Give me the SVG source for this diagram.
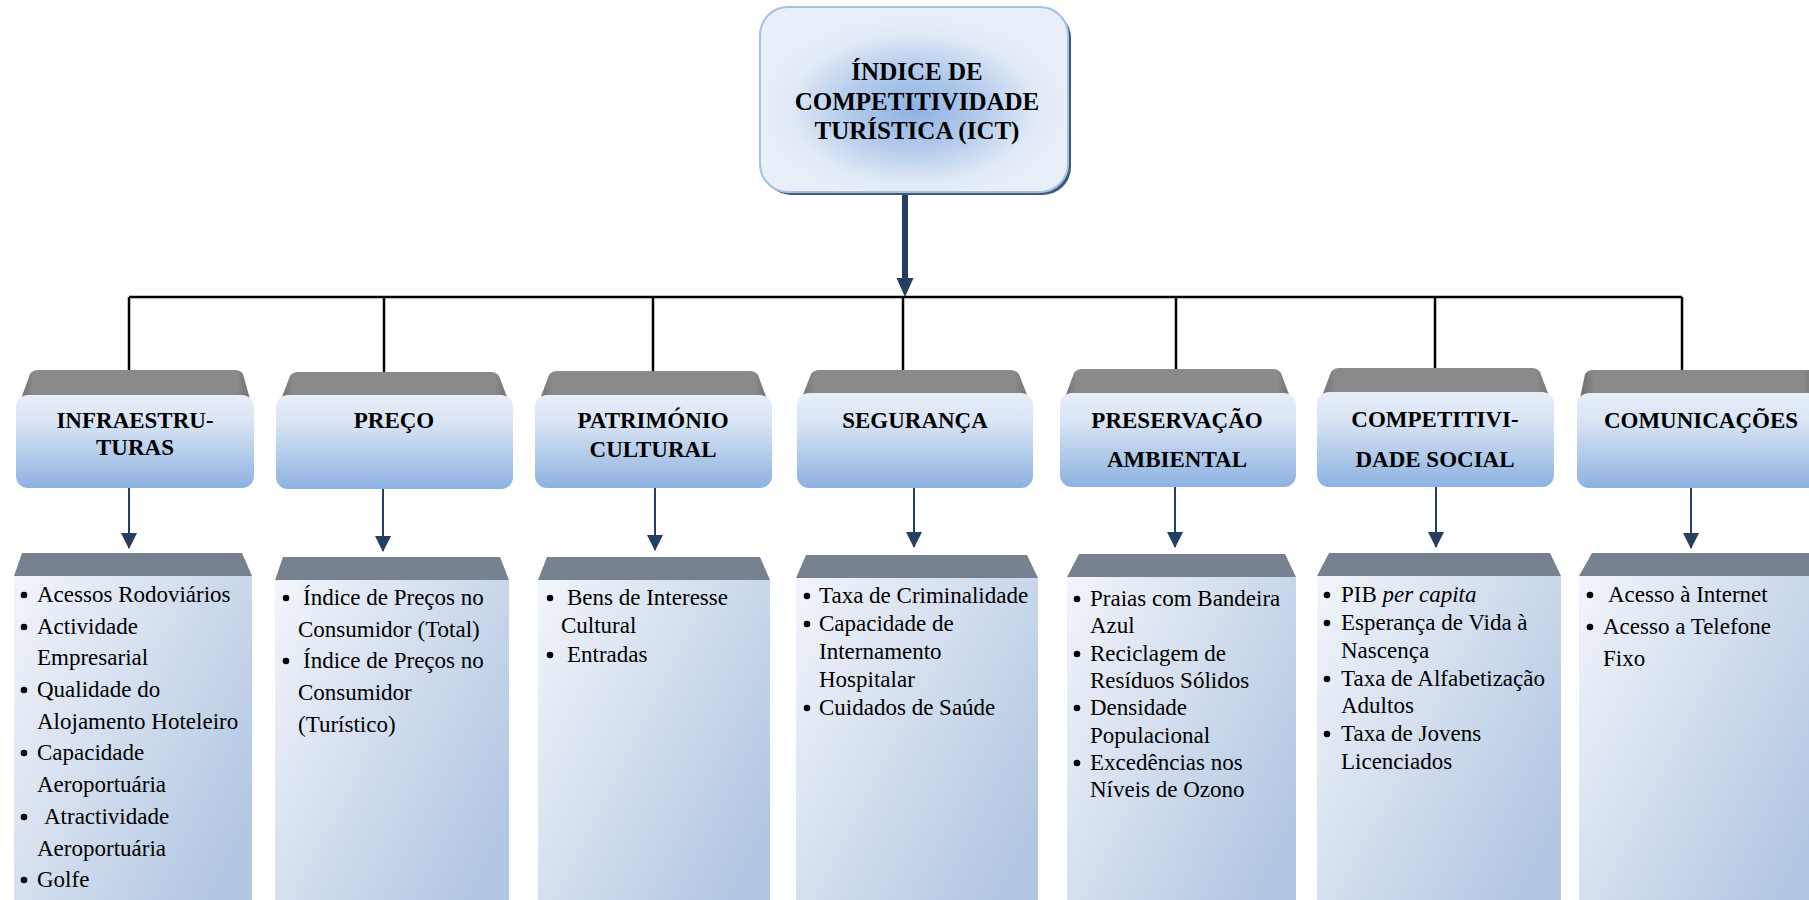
<svg xmlns="http://www.w3.org/2000/svg" width="1809" height="900" viewBox="0 0 1809 900">
  <defs>
    <style>
      .title { font-family: "Liberation Serif", "Times New Roman", serif; font-size: 25px; font-weight: bold; fill: #000; text-anchor: middle; }
      .cat { font-family: "Liberation Serif", "Times New Roman", serif; font-size: 23px; font-weight: bold; fill: #000; text-anchor: middle; }
      .item { font-family: "Liberation Serif", "Times New Roman", serif; font-size: 23px; fill: #000; }
      .dot { fill: #000; }
      .cap { fill: url(#capGrad); }
      .catBody { fill: url(#catGrad); }
      .listCap { fill: #76828f; }
      .listBody { fill: url(#listGrad); }
      .link { stroke: #000; stroke-width: 2.5; fill: none; }
      .drop { stroke: #243f60; stroke-width: 2; fill: none; marker-end: url(#headSmall); }
    </style>
    <radialGradient id="titleGrad" cx="0.5" cy="0.55" r="0.5">
      <stop offset="0" stop-color="#8fb2e3"/>
      <stop offset="0.45" stop-color="#b5ccec"/>
      <stop offset="0.8" stop-color="#e0e9f6"/>
      <stop offset="1" stop-color="#e8eff9"/>
    </radialGradient>
    <linearGradient id="capGrad" x1="0" y1="0" x2="1" y2="0">
      <stop offset="0" stop-color="#6a6a6a"/>
      <stop offset="0.07" stop-color="#8a8a8a"/>
      <stop offset="0.93" stop-color="#8a8a8a"/>
      <stop offset="1" stop-color="#6a6a6a"/>
    </linearGradient>
    <linearGradient id="catGrad" x1="0" y1="0" x2="0" y2="1">
      <stop offset="0" stop-color="#e7eef9"/>
      <stop offset="0.3" stop-color="#d9e4f4"/>
      <stop offset="1" stop-color="#8cb2e1"/>
    </linearGradient>
    <linearGradient id="listGrad" x1="0" y1="0" x2="1" y2="0.7">
      <stop offset="0" stop-color="#f2f5fb"/>
      <stop offset="0.5" stop-color="#d3deee"/>
      <stop offset="1" stop-color="#b3c8e2"/>
    </linearGradient>
    <marker id="headSmall" markerUnits="userSpaceOnUse" markerWidth="16" markerHeight="16" viewBox="0 0 16 16" refX="15" refY="8" orient="auto">
      <path d="M0,0 L16,8 L0,16 Z" fill="#243f60"/>
    </marker>
  </defs>

  <rect width="1809" height="900" fill="#ffffff"/>

  <!-- connectors -->
  <g id="connectors">
    <line x1="905" y1="192" x2="905" y2="280" stroke="#243f60" stroke-width="6"/>
    <path d="M896.5,278 L913.5,278 L905,297 Z" fill="#243f60"/>
    <line class="link" x1="129" y1="297" x2="1682" y2="297"/>
    <line class="link" x1="129" y1="297" x2="129" y2="371"/>
    <line class="link" x1="384" y1="297" x2="384" y2="373"/>
    <line class="link" x1="653" y1="297" x2="653" y2="372"/>
    <line class="link" x1="903" y1="297" x2="903" y2="371"/>
    <line class="link" x1="1176" y1="297" x2="1176" y2="370"/>
    <line class="link" x1="1435" y1="297" x2="1435" y2="369"/>
    <line class="link" x1="1682" y1="297" x2="1682" y2="371"/>
    <line class="drop" x1="129" y1="488" x2="129" y2="548"/>
    <line class="drop" x1="383" y1="489" x2="383" y2="551"/>
    <line class="drop" x1="655" y1="488" x2="655" y2="550"/>
    <line class="drop" x1="914" y1="488" x2="914" y2="547"/>
    <line class="drop" x1="1175" y1="487" x2="1175" y2="547"/>
    <line class="drop" x1="1436" y1="487" x2="1436" y2="547"/>
    <line class="drop" x1="1691" y1="488" x2="1691" y2="548"/>
  </g>

  <!-- root node -->
  <g id="ict">
    <rect x="763" y="10" width="308" height="185" rx="28" fill="#3f5a7c"/>
    <rect x="760" y="7" width="308" height="185" rx="28" fill="url(#titleGrad)" stroke="#a9c1e0" stroke-width="2"/>
    <text class="title" x="917" y="80">ÍNDICE DE</text>
    <text class="title" x="917" y="110">COMPETITIVIDADE</text>
    <text class="title" x="917" y="139">TURÍSTICA (ICT)</text>
  </g>

  <!-- category: infrastructures -->
  <g id="cat-infraestruturas">
    <path class="cap" d="M17,410 L30,374 Q33,370 38,370 L235,370 Q240,370 243,374 L253,410 Z"/>
    <rect class="catBody" x="16" y="395" width="238" height="93" rx="12"/>
    <text class="cat" x="135" y="428">INFRAESTRU-</text>
    <text class="cat" x="135" y="455">TURAS</text>
  </g>
  <g id="cat-preco">
    <path class="cap" d="M277,410 L290,376 Q293,372 298,372 L491,372 Q496,372 499,376 L512,410 Z"/>
    <rect class="catBody" x="276" y="395" width="237" height="94" rx="12"/>
    <text class="cat" x="394" y="428">PREÇO</text>
  </g>
  <g id="cat-patrimonio">
    <path class="cap" d="M536,410 L549,375 Q552,371 557,371 L750,371 Q755,371 758,375 L771,410 Z"/>
    <rect class="catBody" x="535" y="395" width="237" height="93" rx="12"/>
    <text class="cat" x="653" y="428">PATRIMÓNIO</text>
    <text class="cat" x="653" y="457">CULTURAL</text>
  </g>
  <g id="cat-seguranca">
    <path class="cap" d="M798,408 L811,374 Q814,370 819,370 L1011,370 Q1016,370 1019,374 L1032,408 Z"/>
    <rect class="catBody" x="797" y="393" width="236" height="95" rx="12"/>
    <text class="cat" x="915" y="428">SEGURANÇA</text>
  </g>
  <g id="cat-preservacao">
    <path class="cap" d="M1061,408 L1074,373 Q1077,369 1082,369 L1273,369 Q1278,369 1281,373 L1294,408 Z"/>
    <rect class="catBody" x="1060" y="393" width="236" height="94" rx="12"/>
    <text class="cat" x="1177" y="428">PRESERVAÇÃO</text>
    <text class="cat" x="1177" y="467">AMBIENTAL</text>
  </g>
  <g id="cat-competitividade">
    <path class="cap" d="M1318,407 L1331,372 Q1334,368 1339,368 L1532,368 Q1537,368 1540,372 L1553,407 Z"/>
    <rect class="catBody" x="1317" y="392" width="237" height="95" rx="12"/>
    <text class="cat" x="1435" y="427">COMPETITIVI-</text>
    <text class="cat" x="1435" y="467">DADE SOCIAL</text>
  </g>
  <g id="cat-comunicacoes">
    <path class="cap" d="M1578,408 L1585,374 Q1588,370 1593,370 L1820,370 L1820,408 Z"/>
    <rect class="catBody" x="1577" y="393" width="250" height="95" rx="12"/>
    <text class="cat" x="1701" y="428">COMUNICAÇÕES</text>
  </g>

  <!-- indicator list: infrastructures -->
  <g id="list-infraestruturas">
    <path class="listCap" d="M14,576 L22,553 L242,553 L252,576 Z"/>
    <rect class="listBody" x="14" y="576" width="238" height="330"/>
    <circle class="dot" cx="24" cy="595" r="3.3"/>
    <text class="item" x="37" y="602">Acessos Rodoviários</text>
    <circle class="dot" cx="24" cy="627" r="3.3"/>
    <text class="item" x="37" y="634">Actividade</text>
    <text class="item" x="37" y="665">Empresarial</text>
    <circle class="dot" cx="24" cy="690" r="3.3"/>
    <text class="item" x="37" y="697">Qualidade do</text>
    <text class="item" x="37" y="729">Alojamento Hoteleiro</text>
    <circle class="dot" cx="24" cy="753" r="3.3"/>
    <text class="item" x="37" y="760">Capacidade</text>
    <text class="item" x="37" y="792">Aeroportuária</text>
    <circle class="dot" cx="24" cy="817" r="3.3"/>
    <text class="item" x="44" y="824">Atractividade</text>
    <text class="item" x="37" y="856">Aeroportuária</text>
    <circle class="dot" cx="24" cy="880" r="3.3"/>
    <text class="item" x="37" y="887">Golfe</text>
  </g>

  <!-- indicator list: price -->
  <g id="list-preco">
    <path class="listCap" d="M275,580 L283,557 L500,557 L509,580 Z"/>
    <rect class="listBody" x="275" y="580" width="234" height="326"/>
    <circle class="dot" cx="286" cy="598" r="3.3"/>
    <text class="item" x="303" y="605">Índice de Preços no</text>
    <text class="item" x="298" y="637">Consumidor (Total)</text>
    <circle class="dot" cx="286" cy="661" r="3.3"/>
    <text class="item" x="303" y="668">Índice de Preços no</text>
    <text class="item" x="298" y="700">Consumidor</text>
    <text class="item" x="298" y="732">(Turístico)</text>
  </g>

  <!-- indicator list: cultural heritage -->
  <g id="list-patrimonio">
    <path class="listCap" d="M538,580 L547,557 L760,557 L770,580 Z"/>
    <rect class="listBody" x="538" y="580" width="232" height="326"/>
    <circle class="dot" cx="550" cy="598" r="3.3"/>
    <text class="item" x="567" y="605">Bens de Interesse</text>
    <text class="item" x="561" y="633">Cultural</text>
    <circle class="dot" cx="550" cy="655" r="3.3"/>
    <text class="item" x="567" y="662">Entradas</text>
  </g>

  <!-- indicator list: safety -->
  <g id="list-seguranca">
    <path class="listCap" d="M796,578 L806,555 L1027,555 L1038,578 Z"/>
    <rect class="listBody" x="796" y="578" width="242" height="328"/>
    <circle class="dot" cx="807" cy="596" r="3.3"/>
    <text class="item" x="819" y="603">Taxa de Criminalidade</text>
    <circle class="dot" cx="807" cy="624" r="3.3"/>
    <text class="item" x="819" y="631">Capacidade de</text>
    <text class="item" x="819" y="659">Internamento</text>
    <text class="item" x="819" y="687">Hospitalar</text>
    <circle class="dot" cx="807" cy="708" r="3.3"/>
    <text class="item" x="819" y="715">Cuidados de Saúde</text>
  </g>

  <!-- indicator list: environment -->
  <g id="list-preservacao">
    <path class="listCap" d="M1067,577 L1079,554 L1285,554 L1296,577 Z"/>
    <rect class="listBody" x="1067" y="577" width="229" height="329"/>
    <circle class="dot" cx="1077" cy="599" r="3.3"/>
    <text class="item" x="1090" y="606">Praias com Bandeira</text>
    <text class="item" x="1090" y="633">Azul</text>
    <circle class="dot" cx="1077" cy="654" r="3.3"/>
    <text class="item" x="1090" y="661">Reciclagem de</text>
    <text class="item" x="1090" y="688">Resíduos Sólidos</text>
    <circle class="dot" cx="1077" cy="708" r="3.3"/>
    <text class="item" x="1090" y="715">Densidade</text>
    <text class="item" x="1090" y="743">Populacional</text>
    <circle class="dot" cx="1077" cy="763" r="3.3"/>
    <text class="item" x="1090" y="770">Excedências nos</text>
    <text class="item" x="1090" y="797">Níveis de Ozono</text>
  </g>

  <!-- indicator list: social competitiveness -->
  <g id="list-competitividade">
    <path class="listCap" d="M1317,576 L1329,553 L1550,553 L1561,576 Z"/>
    <rect class="listBody" x="1317" y="576" width="244" height="330"/>
    <circle class="dot" cx="1327" cy="595" r="3.3"/>
    <text class="item" x="1341" y="602">PIB <tspan font-style="italic">per capita</tspan></text>
    <circle class="dot" cx="1327" cy="623" r="3.3"/>
    <text class="item" x="1341" y="630">Esperança de Vida à</text>
    <text class="item" x="1341" y="658">Nascença</text>
    <circle class="dot" cx="1327" cy="679" r="3.3"/>
    <text class="item" x="1341" y="686">Taxa de Alfabetização</text>
    <text class="item" x="1341" y="713">Adultos</text>
    <circle class="dot" cx="1327" cy="734" r="3.3"/>
    <text class="item" x="1341" y="741">Taxa de Jovens</text>
    <text class="item" x="1341" y="769">Licenciados</text>
  </g>

  <!-- indicator list: communications -->
  <g id="list-comunicacoes">
    <path class="listCap" d="M1579,576 L1592,553 L1820,553 L1820,576 Z"/>
    <rect class="listBody" x="1579" y="576" width="240" height="330"/>
    <circle class="dot" cx="1590" cy="595" r="3.3"/>
    <text class="item" x="1608" y="602">Acesso à Internet</text>
    <circle class="dot" cx="1590" cy="627" r="3.3"/>
    <text class="item" x="1603" y="634">Acesso a Telefone</text>
    <text class="item" x="1603" y="666">Fixo</text>
  </g>
</svg>
